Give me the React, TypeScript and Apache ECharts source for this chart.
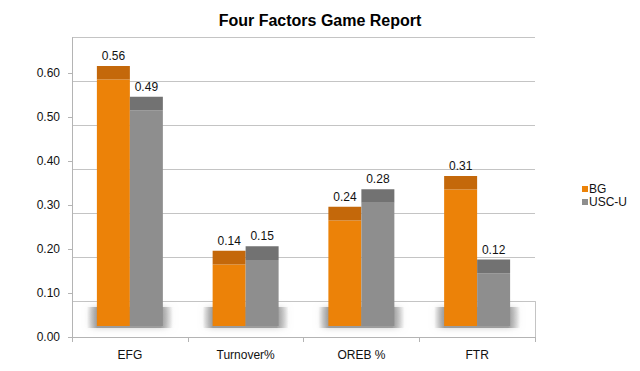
import React, { useEffect, useRef } from "react";
import * as echarts from "echarts";

const CATEGORIES = ["EFG", "Turnover%", "OREB %", "FTR"];
const BG = [0.56, 0.14, 0.24, 0.31];
const USC = [0.49, 0.15, 0.28, 0.12];
const Y_TICKS = [0, 0.1, 0.2, 0.3, 0.4, 0.5, 0.6];
const SERIES_NAMES = ["BG", "USC-U"];

const FONT = "Liberation Sans, Arial, Helvetica, sans-serif";
const CAP = 0.031; // visual thickness of the 3D top face (style)

export default function App() {
  const ref = useRef<HTMLDivElement>(null);

  useEffect(() => {
    document.body.style.margin = "0";
    if (!ref.current) return;
    const chart = echarts.init(ref.current, null, { renderer: "svg" });

    const gridLine = "#c4c4c4";
    const L = 72;
    const R = 105;

    const capLabel = (arr: number[]) => ({
      show: true,
      position: "top" as const,
      distance: 4,
      color: "#111",
      fontSize: 12,
      fontFamily: FONT,
      formatter: (p: any) => arr[p.dataIndex].toFixed(2),
    });

    const shadowFill = new echarts.graphic.LinearGradient(0, 0, 1, 0, [
      { offset: 0, color: "rgba(150,150,150,0)" },
      { offset: 0.12, color: "rgba(150,150,150,0.9)" },
      { offset: 0.86, color: "rgba(150,150,150,0.9)" },
      { offset: 1, color: "rgba(150,150,150,0)" },
    ]);

    const option: any = {
      animation: false,
      backgroundColor: "#fff",
      title: {
        text: "Four Factors Game Report",
        left: "center",
        top: 7,
        textStyle: { fontSize: 16, fontWeight: "bold", fontFamily: FONT, color: "#000" },
      },
      legend: {
        orient: "vertical",
        left: 582,
        top: 183,
        itemWidth: 6,
        itemHeight: 6,
        itemGap: 1,
        icon: "rect",
        padding: 0,
        data: SERIES_NAMES,
        textStyle: { fontSize: 12, fontFamily: FONT, color: "#111", padding: [0, 0, 0, -4] },
      },
      grid: [
        { left: L, right: R, top: 37.7, bottom: 34 },
        { left: L, right: R, top: 37.7, bottom: 69.5 },
        { left: L, right: R, top: 18, bottom: 45 },
        { left: L, right: R, top: 301.5, bottom: 34 },
      ],
      xAxis: [
        {
          gridIndex: 0,
          type: "category",
          data: CATEGORIES,
          axisLine: { lineStyle: { color: "#b4b4b4" } },
          axisTick: { show: true, length: 5, alignWithLabel: false, lineStyle: { color: "#b4b4b4" } },
          axisLabel: { fontSize: 12, fontFamily: FONT, color: "#111", margin: 12 },
        },
        { gridIndex: 1, type: "category", data: CATEGORIES, show: false },
        { gridIndex: 2, type: "category", data: CATEGORIES, show: false },
        { gridIndex: 3, type: "category", data: CATEGORIES, show: false },
      ],
      yAxis: [
        {
          gridIndex: 0,
          type: "value",
          min: 0,
          max: 0.68,
          axisLine: { show: true, lineStyle: { color: "#b4b4b4" } },
          axisTick: { show: true, length: 4, customValues: Y_TICKS, lineStyle: { color: "#b4b4b4" } },
          axisLabel: {
            customValues: Y_TICKS,
            fontSize: 12,
            fontFamily: FONT,
            color: "#111",
            margin: 12,
            formatter: (v: number) => v.toFixed(2),
          },
          splitLine: { show: false },
        },
        {
          gridIndex: 1,
          type: "value",
          min: 0,
          max: 0.6,
          interval: 0.1,
          axisLine: { show: false },
          axisTick: { show: false },
          axisLabel: { show: false },
          splitLine: { show: true, lineStyle: { color: gridLine, width: 1 } },
        },
        {
          gridIndex: 2,
          type: "value",
          min: 0,
          max: 0.7,
          show: false,
          splitLine: { show: false },
        },
        {
          gridIndex: 3,
          type: "value",
          position: "right",
          min: 0,
          max: 1,
          axisLine: { show: true, lineStyle: { color: gridLine } },
          axisTick: { show: false },
          axisLabel: { show: false },
          splitLine: { show: false },
        },
      ],
      series: [
        {
          type: "custom",
          name: "shadow",
          xAxisIndex: 2,
          yAxisIndex: 2,
          z: 1,
          silent: true,
          data: CATEGORIES.map((_, i) => [i, 0]),
          renderItem: (params: any, api: any) => {
            const pt = api.coord([api.value(0), 0]);
            return {
              type: "rect",
              shape: { x: pt[0] - 43, y: pt[1] - 19, width: 86, height: 21 },
              style: { fill: shadowFill, shadowBlur: 6, shadowColor: "rgba(160,160,160,0.6)" },
            };
          },
        },
        {
          type: "bar",
          name: "BG",
          xAxisIndex: 2,
          yAxisIndex: 2,
          stack: "bg",
          z: 3,
          barGap: "0%",
          barCategoryGap: "43%",
          data: BG,
          itemStyle: { color: "#ec8208" },
        },
        {
          type: "bar",
          name: "BG cap",
          xAxisIndex: 2,
          yAxisIndex: 2,
          stack: "bg",
          z: 3,
          data: BG.map(() => CAP),
          itemStyle: { color: "#c4680a" },
          label: capLabel(BG),
        },
        {
          type: "bar",
          name: "USC-U",
          xAxisIndex: 2,
          yAxisIndex: 2,
          stack: "usc",
          z: 3,
          barGap: "0%",
          barCategoryGap: "43%",
          data: USC,
          itemStyle: { color: "#8e8e8e" },
        },
        {
          type: "bar",
          name: "USC-U cap",
          xAxisIndex: 2,
          yAxisIndex: 2,
          stack: "usc",
          z: 3,
          data: USC.map(() => CAP),
          itemStyle: { color: "#727272" },
          label: capLabel(USC),
        },
      ],
    };

    chart.setOption(option);
    return () => chart.dispose();
  }, []);

  return (
    <div
      ref={ref}
      style={{ width: 640, height: 371, position: "fixed", left: 0, top: 0 }}
    />
  );
}
